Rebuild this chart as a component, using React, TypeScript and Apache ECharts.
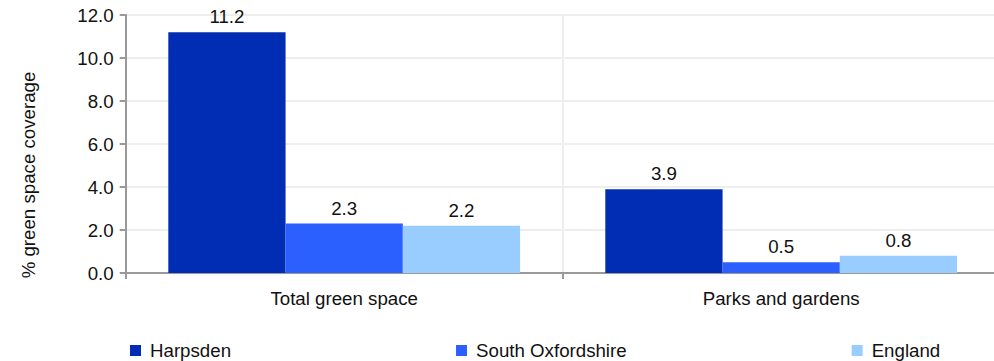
import React, { useEffect, useRef } from "react";
import * as echarts from "echarts";

const categories = ["Total green space", "Parks and gardens"];
const seriesNames = ["Harpsden", "South Oxfordshire", "England"];
const harpsden = [11.2, 3.9];
const southOxfordshire = [2.3, 0.5];
const england = [2.2, 0.8];
const colors = ["#002DB3", "#2B60FF", "#99CCFF"];
const yAxisTitle = "% green space coverage";

export default function App() {
  const ref = useRef<HTMLDivElement>(null);
  useEffect(() => {
    if (!ref.current) return;
    document.body.style.margin = "0";
    document.body.style.overflow = "hidden";
    const chart = echarts.init(ref.current, null, { renderer: "svg" });
    const font = "'Liberation Sans', Arial, sans-serif";
    const fs = 18.7;
    const values = [harpsden, southOxfordshire, england];
    chart.setOption({
      animation: false,
      textStyle: { fontFamily: font },
      grid: { left: 125.7, top: 15, bottom: 88, right: 0.3, containLabel: false },
      legend: {
        data: seriesNames,
        left: 130,
        top: 341,
        padding: 0,
        itemGap: 225,
        itemWidth: 11,
        itemHeight: 11,
        icon: "rect",
        textStyle: { fontSize: fs, color: "#111", fontFamily: font, padding: [0, 0, 0, 4] },
      },
      xAxis: {
        type: "category",
        data: categories,
        axisLine: { lineStyle: { color: "#999", width: 2 } },
        axisTick: { show: true, length: 6, lineStyle: { color: "#999", width: 2 }, alignWithLabel: false },
        axisLabel: { fontSize: fs, color: "#111", margin: 16, fontFamily: font },
        splitLine: { show: true, lineStyle: { color: "#eeeeee", width: 2 } },
      },
      yAxis: {
        type: "value",
        min: 0,
        max: 12,
        interval: 2,
        axisLine: { show: true, lineStyle: { color: "#999", width: 2 } },
        axisTick: { show: true, length: 6, lineStyle: { color: "#999", width: 2 } },
        axisLabel: {
          fontSize: fs,
          color: "#111",
          margin: 12,
          fontFamily: font,
          formatter: (v: number) => v.toFixed(1),
        },
        splitLine: { show: true, lineStyle: { color: "#eeeeee", width: 2 } },
      },
      graphic: [
        {
          type: "text",
          x: 28,
          y: 175,
          rotation: Math.PI / 2,
          style: {
            text: yAxisTitle,
            fontSize: fs,
            fill: "#111",
            fontFamily: font,
            align: "center",
            verticalAlign: "middle",
          },
        },
      ],
      series: seriesNames.map((name, i) => ({
        name,
        type: "bar",
        data: values[i],
        barGap: "0%",
        barCategoryGap: "19.5%",
        itemStyle: { color: colors[i] },
        label: {
          show: true,
          position: "top",
          distance: 6,
          fontSize: fs,
          color: "#111",
          fontFamily: font,
          formatter: (p: any) => Number(p.value).toFixed(1),
        },
      })),
    });
    return () => chart.dispose();
  }, []);
  return <div ref={ref} style={{ width: 1000, height: 361 }} />;
}
